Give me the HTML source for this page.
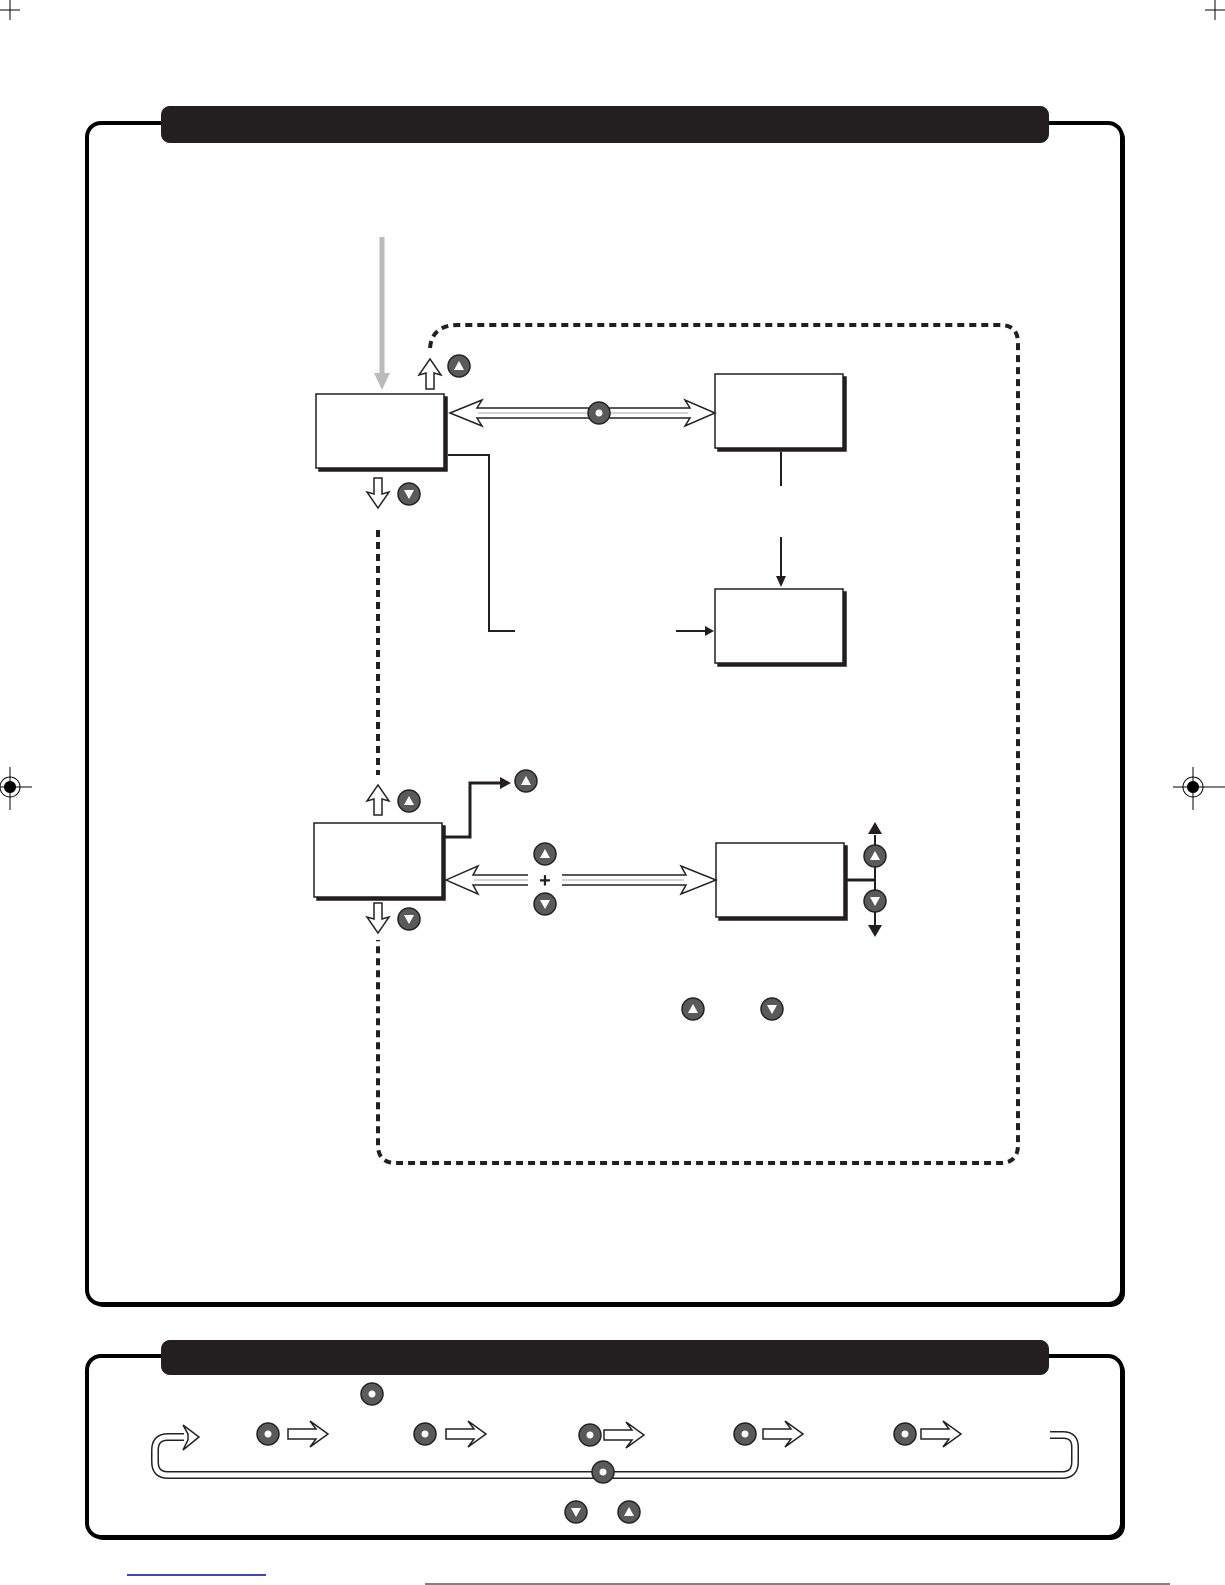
<!DOCTYPE html>
<html><head><meta charset="utf-8"><style>html,body{margin:0;padding:0;background:#fff}svg{display:block}</style></head>
<body>
<svg width="1225" height="1585" viewBox="0 0 1225 1585" xmlns="http://www.w3.org/2000/svg">
<defs>
<g id="bu"><circle r="11" fill="#5a5a5a" stroke="#222" stroke-width="1.5"/><polygon points="0,-5 5,4 -5,4" fill="#fff"/></g>
<g id="bd"><circle r="11" fill="#5a5a5a" stroke="#222" stroke-width="1.5"/><polygon points="0,5 5,-4 -5,-4" fill="#fff"/></g>
<g id="bo"><circle r="11" fill="#5a5a5a" stroke="#222" stroke-width="1.5"/><circle r="3.5" fill="#fff"/></g>
<g id="ha"><polygon points="0,-5 28,-5 22,-13 40,0 22,13 28,5 0,5" fill="#fff" stroke="#222" stroke-width="1.5" stroke-linejoin="miter"/></g>
<g id="hu"><polygon points="-4,0 -4,-16 -11,-14 0,-30 11,-14 4,-16 4,0" fill="#fff" stroke="#222" stroke-width="1.5"/></g>
</defs>
<g stroke="#000" stroke-width="1">
<line x1="0" y1="10" x2="20" y2="10"/><line x1="10" y1="0" x2="10" y2="20"/>
<line x1="1205" y1="10" x2="1225" y2="10"/><line x1="1215" y1="0" x2="1215" y2="20"/>
<line x1="10" y1="767" x2="10" y2="810"/><line x1="0" y1="787" x2="32" y2="787"/>
<circle cx="10" cy="787" r="10" fill="none"/>
<line x1="1193" y1="767" x2="1193" y2="810"/><line x1="1173" y1="787" x2="1225" y2="787"/>
<circle cx="1193" cy="787" r="10" fill="none"/>
</g>
<circle cx="10" cy="787" r="6" fill="#000"/><circle cx="1193" cy="787" r="6" fill="#000"/>
<line x1="127" y1="1575" x2="266" y2="1575" stroke="#00c" stroke-width="1.5"/>
<line x1="425" y1="1584" x2="1170" y2="1584" stroke="#000" stroke-width="1"/>

<rect x="89" y="125" width="1036" height="1182" rx="14" fill="#000"/>
<rect x="87" y="123" width="1035" height="1181" rx="14" fill="#fff" stroke="#000" stroke-width="4"/>
<rect x="161" y="106" width="888" height="37" rx="9" fill="#231f20"/>
<rect x="89" y="1358" width="1036" height="182" rx="14" fill="#000"/>
<rect x="87" y="1356" width="1035" height="181" rx="14" fill="#fff" stroke="#000" stroke-width="4"/>
<rect x="161" y="1340" width="888" height="35" rx="9" fill="#231f20"/>

<line x1="382" y1="237" x2="382" y2="375" stroke="#bbb" stroke-width="5"/>
<polygon points="374,373 390,373 382,390" fill="#bbb"/>

<path d="M430,348 Q432,325 458,325 L1000,325 Q1018,325 1018,343 L1018,1145 Q1018,1163 1000,1163 L396,1163 Q378,1163 378,1145 L378,940" fill="none" stroke="#231f20" stroke-width="4" stroke-dasharray="7,5"/>
<line x1="378" y1="530" x2="378" y2="775" stroke="#231f20" stroke-width="4" stroke-dasharray="7,5"/>

<g stroke="#231f20" stroke-width="1.5" fill="#fff">
<rect x="319" y="397" width="128" height="74" fill="#231f20"/><rect x="316" y="394" width="128" height="74"/>
<rect x="718" y="377" width="128" height="74" fill="#231f20"/><rect x="715" y="374" width="128" height="74"/>
<rect x="718" y="592" width="128" height="74" fill="#231f20"/><rect x="715" y="589" width="128" height="74"/>
<rect x="317" y="826" width="128" height="74" fill="#231f20"/><rect x="314" y="823" width="128" height="74"/>
<rect x="719" y="846" width="128" height="74" fill="#231f20"/><rect x="716" y="843" width="128" height="74"/>
</g>

<g fill="#fff" stroke="#222" stroke-width="1.5">
<polygon points="450,413 482,400 477,408 690,408 685,400 715,413 685,426 690,418 477,418 482,426"/>
<polygon points="446,880 478,866 473,875 686,875 681,866 716,880 681,894 686,885 473,885 478,894"/>
</g>
<line x1="478" y1="413" x2="688" y2="413" stroke="#aaa" stroke-width="1"/>
<line x1="474" y1="880" x2="684" y2="880" stroke="#aaa" stroke-width="1"/>
<use href="#bo" x="599" y="413"/>
<rect x="528" y="870" width="34" height="20" fill="#fff"/>
<text x="545" y="887" font-family="Liberation Sans, sans-serif" font-size="20" font-weight="bold" text-anchor="middle" fill="#222">+</text>
<use href="#bu" x="545" y="854"/><use href="#bd" x="545" y="904"/>

<g stroke="#231f20" stroke-width="2" fill="none">
<polyline points="448,455 489,455 489,631 515,631"/>
<line x1="676" y1="631" x2="706" y2="631"/>
<line x1="781" y1="452" x2="781" y2="486"/>
<line x1="781" y1="537" x2="781" y2="578"/>
<polyline points="445,837 470,837 470,783 502,783" stroke-width="3"/>
<line x1="845" y1="880" x2="875" y2="880" stroke-width="3"/>
<line x1="875" y1="835" x2="875" y2="925"/>
</g>
<polygon points="705,626 714,631 705,636" fill="#231f20"/>
<polygon points="776,576 786,576 781,587" fill="#231f20"/>
<polygon points="500,777 511,783 500,789" fill="#231f20"/>
<polygon points="868,834 882,834 875,822" fill="#231f20"/>
<polygon points="868,925 882,925 875,937" fill="#231f20"/>

<use href="#hu" x="430" y="389"/><use href="#bu" x="459" y="366"/>
<use href="#hu" transform="translate(378,478) scale(1,-1)"/><use href="#bd" x="409" y="494"/>
<use href="#hu" x="378" y="815"/><use href="#bu" x="409" y="801"/>
<use href="#hu" transform="translate(378,903) scale(1,-1)"/><use href="#bd" x="409" y="919"/>
<use href="#bu" x="526" y="781"/>
<use href="#bu" x="875" y="856"/><use href="#bd" x="875" y="901"/>
<use href="#bu" x="693" y="1009"/><use href="#bd" x="772" y="1009"/>

<use href="#bo" x="372" y="1394"/>
<path d="M184,1437 L168,1437 Q155,1437 155,1450 L155,1462 Q155,1475 168,1475 L1062,1475 Q1075,1475 1075,1462 L1075,1447 Q1075,1435 1063,1435 L1050,1435" fill="none" stroke="#222" stroke-width="8"/>
<path d="M186,1437 L168,1437 Q155,1437 155,1450 L155,1462 Q155,1475 168,1475 L1062,1475 Q1075,1475 1075,1462 L1075,1447 Q1075,1435 1063,1435 L1050,1435" fill="none" stroke="#fff" stroke-width="5"/>
<polygon points="183,1425 199,1437 183,1450 188,1440 188,1434" fill="#fff" stroke="#222" stroke-width="1.5"/>
<use href="#bo" x="268" y="1434"/><use href="#ha" x="288" y="1434"/>
<use href="#bo" x="425" y="1434"/><use href="#ha" x="446" y="1434"/>
<use href="#bo" x="590" y="1435"/><use href="#ha" x="604" y="1435"/>
<use href="#bo" x="745" y="1434"/><use href="#ha" x="763" y="1434"/>
<use href="#bo" x="905" y="1434"/><use href="#ha" x="921" y="1434"/>
<use href="#bo" x="603" y="1472"/>
<use href="#bd" x="576" y="1512"/><use href="#bu" x="629" y="1512"/>
</svg>
</body></html>
